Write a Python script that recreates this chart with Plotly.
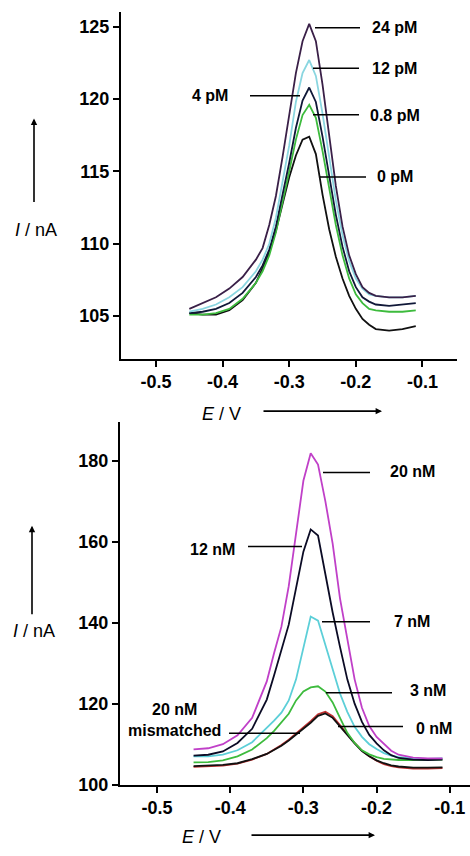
import plotly.graph_objects as go

W, H = 470, 856

# ---------------- Top panel data (pM) ----------------
E_top = [-0.45, -0.43, -0.41, -0.39, -0.37, -0.35, -0.34, -0.33, -0.32, -0.31, -0.30,
         -0.29, -0.28, -0.27, -0.26, -0.25, -0.24, -0.23, -0.22, -0.21, -0.20, -0.19,
         -0.18, -0.17, -0.15, -0.13, -0.11]
I_24pM = [105.5, 105.9, 106.3, 106.9, 107.7, 108.9, 109.7, 111.3, 113.3, 116.0, 118.8,
          121.8, 124.0, 125.2, 124.0, 121.0, 117.5, 114.0, 111.2, 109.2, 107.9, 107.0,
          106.6, 106.4, 106.3, 106.3, 106.4]
I_12pM = [105.3, 105.5, 105.8, 106.3, 107.0, 108.1, 108.9, 110.0, 111.8, 114.2, 116.8,
          119.8, 121.8, 122.7, 121.6, 119.0, 116.0, 113.0, 110.6, 108.8, 107.6, 106.9,
          106.5, 106.4, 106.3, 106.3, 106.4]
I_4pM = [105.2, 105.3, 105.5, 105.9, 106.6, 107.7, 108.5, 109.6, 111.2, 113.3, 115.6,
         118.0, 119.9, 120.8, 119.8, 117.4, 114.7, 112.0, 109.8, 108.1, 107.0, 106.3,
         106.0, 105.8, 105.7, 105.8, 105.9]
I_08pM = [105.1, 105.1, 105.2, 105.5, 106.2, 107.3, 108.1, 109.2, 110.8, 112.8, 115.0,
          117.2, 118.9, 119.6, 118.7, 116.4, 113.8, 111.3, 109.2, 107.6, 106.5, 105.9,
          105.5, 105.4, 105.3, 105.3, 105.4]
I_0pM = [105.2, 105.1, 105.1, 105.4, 106.1, 107.3, 108.3, 109.4, 110.9, 112.8, 114.6,
         116.1, 117.2, 117.4, 116.2, 113.4, 111.0, 109.1, 107.6, 106.4, 105.5, 104.8,
         104.4, 104.1, 104.0, 104.1, 104.3]

# ---------------- Bottom panel data (nM) ----------------
E_bot = [-0.45, -0.43, -0.41, -0.39, -0.37, -0.35, -0.34, -0.33, -0.32, -0.31, -0.30,
         -0.29, -0.28, -0.27, -0.26, -0.25, -0.24, -0.23, -0.22, -0.21, -0.20, -0.19,
         -0.18, -0.17, -0.15, -0.13, -0.11]
I_20nM = [108.7, 109.0, 110.0, 112.2, 116.5, 125.5, 132.5, 139.0, 149.0, 162.0, 175.0,
          181.8, 179.0, 170.0, 159.5, 146.0, 135.5, 126.0, 119.0, 114.5, 111.8, 110.0,
          108.4, 107.4, 106.7, 106.5, 106.5]
I_12nM = [107.2, 107.4, 108.2, 110.3, 113.8, 121.0, 127.0, 133.0, 139.5, 148.5, 157.5,
          163.0, 161.5, 152.0, 142.5, 134.0, 126.0, 120.0, 115.5, 112.3, 110.2, 108.5,
          107.3, 106.6, 106.2, 106.1, 106.2]
I_7nM = [107.0, 107.0, 107.4, 108.5, 110.5, 114.0, 115.8, 117.8, 120.8, 126.0, 133.5,
         141.5, 140.5, 134.5, 128.0, 122.5, 118.0, 114.3, 111.8, 110.0, 108.8, 107.8,
         107.2, 106.8, 106.5, 106.4, 106.5]
I_3nM = [105.5, 105.6, 106.0, 107.0, 108.7, 111.5, 113.3, 115.5, 117.5, 120.8, 123.0,
         124.0, 124.3, 123.0, 120.3, 116.5, 112.8, 110.3, 108.5, 107.5, 106.8, 106.4,
         106.2, 106.1, 106.1, 106.1, 106.2]
I_0nM = [104.6, 104.7, 104.9, 105.3, 106.3, 107.6, 108.5, 109.6, 110.9, 112.3, 113.7,
         115.3, 117.0, 117.6, 116.5, 114.5, 112.3, 110.2, 108.3, 107.0, 106.0, 105.3,
         104.8, 104.5, 104.2, 104.2, 104.3]
I_mis = [104.4, 104.5, 104.7, 105.2, 106.2, 107.6, 108.6, 109.8, 111.1, 112.6, 114.0,
         115.7, 117.4, 118.0, 116.9, 114.8, 112.5, 110.3, 108.4, 107.0, 105.9, 105.1,
         104.6, 104.3, 104.0, 104.0, 104.1]

top_series = [("0 pM", I_0pM, "#111111"), ("0.8 pM", I_08pM, "#3dbb3d"),
              ("4 pM", I_4pM, "#101838"), ("12 pM", I_12pM, "#8ad6e0"),
              ("24 pM", I_24pM, "#3a2048")]
bot_series = [("mismatched", I_mis, "#c03030"), ("0 nM", I_0nM, "#111111"),
              ("3 nM", I_3nM, "#3dbb3d"), ("7 nM", I_7nM, "#5ccfd8"),
              ("12 nM", I_12nM, "#0b0b25"), ("20 nM", I_20nM, "#c040c8")]

top_ticks = [105, 110, 115, 120, 125]
bot_ticks = [100, 120, 140, 160, 180]
x_ticks = [-0.5, -0.4, -0.3, -0.2, -0.1]
x_ticklabels = ["-0.5", "-0.4", "-0.3", "-0.2", "-0.1"]

FONT = "Liberation Sans, Arial, sans-serif"

fig = go.Figure()
for name, ys, col in top_series:
    fig.add_trace(go.Scatter(x=E_top, y=ys, mode="lines", name=name,
                             line=dict(color=col, width=1.8), xaxis="x", yaxis="y"))
for name, ys, col in bot_series:
    fig.add_trace(go.Scatter(x=E_bot, y=ys, mode="lines", name=name,
                             line=dict(color=col, width=1.8), xaxis="x2", yaxis="y2"))


def px(x):
    return x / W


def py(y):
    return 1 - y / H


axis_common = dict(showline=True, linecolor="black", linewidth=2, ticks="outside",
                   ticklen=6, tickwidth=2, tickcolor="black", showgrid=False,
                   zeroline=False, tickfont=dict(family=FONT, size=18, color="black"))

fig.update_layout(
    width=W, height=H, margin=dict(l=0, r=0, t=0, b=0),
    paper_bgcolor="white", plot_bgcolor="white", showlegend=False,
    xaxis=dict(domain=[px(121), px(457)], range=[-0.5526, -0.0481], anchor="y",
               tickvals=x_ticks, ticktext=["<b>%s</b>" % t for t in x_ticklabels], **axis_common),
    yaxis=dict(domain=[py(363), py(12)], range=[102.05, 126.03], anchor="x",
               tickvals=top_ticks, ticktext=["<b>%d</b>" % t for t in top_ticks], **axis_common),
    xaxis2=dict(domain=[px(120), 1.0], range=[-0.5505, -0.0724], anchor="y2",
                tickvals=x_ticks, ticktext=["<b>%s</b>" % t for t in x_ticklabels], **axis_common),
    yaxis2=dict(domain=[py(794), py(427)], range=[100, 189.5], anchor="x2",
                tickvals=bot_ticks, ticktext=["<b>%d</b>" % t for t in bot_ticks], **axis_common),
)

# labels with pointer lines (pixel positions)
labels = [
    ("24 pM", 394, 28, 315, 360, 28),
    ("12 pM", 394, 69, 313, 359, 69),
    ("4 pM", 210, 97, 250, 300, 97),
    ("0.8 pM", 395, 117, 313, 359, 116),
    ("0 pM", 395, 179, 320, 366, 179),
    ("20 nM", 412, 477, 323, 370, 478),
    ("12 nM", 212, 556, 248, 302, 553),
    ("7 nM", 412, 629, 322, 370, 629),
    ("3 nM", 428, 699, 326, 392, 701),
    ("0 nM", 434, 737, 338, 403, 735),
    ("20 nM<br>mismatched", 174, 729, 229, 300, 742),
]
for text, tx, ty, x0, x1, ly in labels:
    fig.add_annotation(text="<b>%s</b>" % text, x=px(tx), y=py(ty), xref="paper", yref="paper",
                       showarrow=False, font=dict(family=FONT, size=16, color="black"),
                       xanchor="center", yanchor="middle")
    fig.add_shape(type="line", xref="paper", yref="paper", x0=px(x0), x1=px(x1),
                  y0=py(ly), y1=py(ly), line=dict(color="black", width=1.5))

# axis titles with arrows
for tx, ty, ax_x, ax_y0, ax_y1 in [(36, 233, 34, 205, 120), (34, 638, 32, 622, 532)]:
    fig.add_annotation(text="<i>I</i> / nA", x=px(tx), y=py(ty), xref="paper", yref="paper",
                       showarrow=False, xanchor="center", yanchor="middle",
                       font=dict(family=FONT, size=18, color="black"))
    fig.add_annotation(text="", x=px(ax_x), y=py(ax_y1), xref="paper", yref="paper",
                       ax=0, ay=ax_y0 - ax_y1, showarrow=True, arrowhead=2,
                       arrowsize=0.8, arrowwidth=1.6, arrowcolor="black")
for tx, ty, y_a, x_a0, x_a1 in [(221, 419, 416, 262, 382), (201, 847, 845, 250, 375)]:
    fig.add_annotation(text="<i>E</i> / V", x=px(tx), y=py(ty), xref="paper", yref="paper",
                       showarrow=False, xanchor="center", yanchor="middle",
                       font=dict(family=FONT, size=18, color="black"))
    fig.add_annotation(text="", x=px(x_a1), y=py(y_a), xref="paper", yref="paper",
                       ax=x_a0 - x_a1, ay=0, showarrow=True, arrowhead=2,
                       arrowsize=0.8, arrowwidth=1.6, arrowcolor="black")

fig.write_html("out.html", config={"displayModeBar": False},
               post_script="document.body.style.margin='0';document.body.style.overflow='hidden';")
